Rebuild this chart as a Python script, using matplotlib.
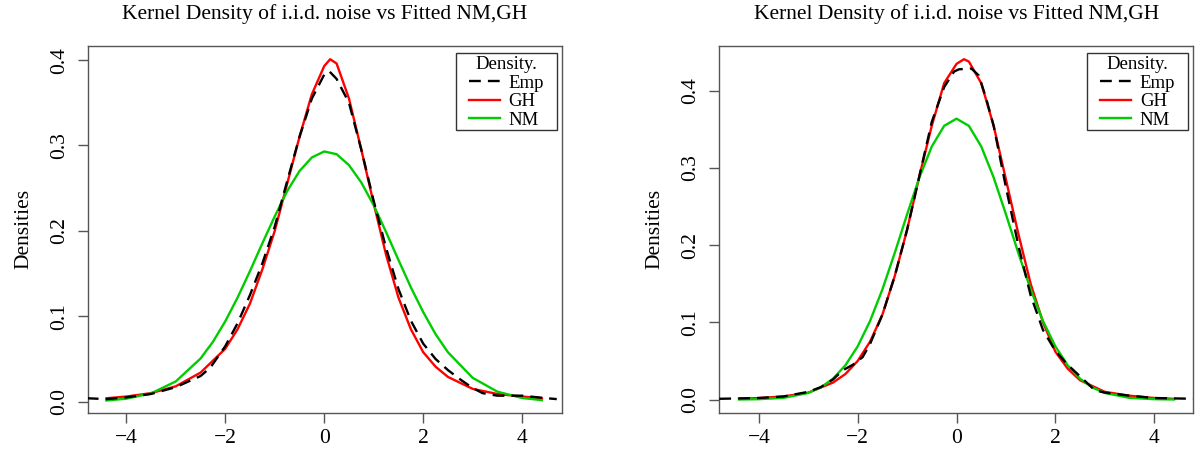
import matplotlib
matplotlib.use("Agg")
import matplotlib.pyplot as plt
from matplotlib.patches import Rectangle

plt.rcParams['font.family'] = ['Liberation Serif', 'DejaVu Serif']
plt.rcParams['axes.unicode_minus'] = True

title = "Kernel Density of i.i.d. noise vs Fitted NM,GH"
ylabel = "Densities"
legend_title = "Density."
series_names = ["Emp", "GH", "NM"]
xticks = [-4, -2, 0, 2, 4]
yticks = [0.0, 0.1, 0.2, 0.3, 0.4]

# ---------------- Left panel ----------------
left_emp_x = [-4.8, -4.4, -4.0, -3.5, -3.0, -2.5, -2.3, -2.0, -1.75, -1.5, -1.25, -1.0, -0.75,
              -0.5, -0.25, 0.0, 0.1, 0.25, 0.5, 0.75, 1.0, 1.25, 1.5, 1.75, 2.0, 2.25, 2.5,
              2.75, 3.0, 3.2, 3.5, 4.0, 4.5, 4.7]
left_emp_y = [0.004, 0.003, 0.005, 0.009, 0.017, 0.030, 0.040, 0.065, 0.092, 0.125, 0.162, 0.205,
              0.258, 0.310, 0.355, 0.383, 0.387, 0.378, 0.350, 0.295, 0.235, 0.180, 0.132, 0.095,
              0.068, 0.050, 0.037, 0.026, 0.016, 0.010, 0.007, 0.007, 0.004, 0.003]

left_gh_x = [-4.4, -4.0, -3.5, -3.0, -2.5, -2.0, -1.75, -1.5, -1.25, -1.0, -0.75, -0.5, -0.25,
             0.0, 0.12, 0.25, 0.5, 0.75, 1.0, 1.25, 1.5, 1.75, 2.0, 2.25, 2.5, 3.0, 3.5, 4.0, 4.4]
left_gh_y = [0.004, 0.006, 0.010, 0.018, 0.034, 0.062, 0.085, 0.115, 0.155, 0.200, 0.255, 0.310,
             0.360, 0.393, 0.401, 0.396, 0.355, 0.295, 0.232, 0.172, 0.122, 0.085, 0.058, 0.041,
             0.029, 0.015, 0.009, 0.006, 0.004]

left_nm_x = [-4.4, -4.0, -3.5, -3.0, -2.5, -2.25, -2.0, -1.75, -1.5, -1.25, -1.0, -0.75, -0.5,
             -0.25, 0.0, 0.25, 0.5, 0.75, 1.0, 1.25, 1.5, 1.75, 2.0, 2.25, 2.5, 3.0, 3.5, 4.0, 4.4]
left_nm_y = [0.0014, 0.0035, 0.0097, 0.0237, 0.0505, 0.070, 0.0941, 0.122, 0.153, 0.1855, 0.217,
             0.2465, 0.270, 0.286, 0.293, 0.2898, 0.277, 0.2566, 0.230, 0.1986, 0.166, 0.134,
             0.105, 0.0791, 0.0579, 0.0279, 0.0117, 0.0043, 0.0018]

# ---------------- Right panel ----------------
right_emp_x = [-4.8, -4.0, -3.5, -3.0, -2.75, -2.5, -2.3, -2.1, -1.9, -1.75, -1.5, -1.25, -1.0,
               -0.75, -0.5, -0.25, -0.05, 0.05, 0.3, 0.45, 0.6, 0.75, 1.0, 1.25, 1.5, 1.75,
               2.0, 2.25, 2.5, 2.8, 3.0, 3.5, 4.0, 4.8]
right_emp_y = [0.001, 0.002, 0.004, 0.010, 0.016, 0.026, 0.038, 0.045, 0.055, 0.072, 0.110,
               0.160, 0.220, 0.290, 0.360, 0.405, 0.425, 0.428, 0.429, 0.420, 0.390, 0.355,
               0.275, 0.200, 0.135, 0.090, 0.063, 0.045, 0.030, 0.012, 0.009, 0.005, 0.002, 0.001]

right_gh_x = [-4.4, -4.0, -3.5, -3.0, -2.5, -2.25, -2.0, -1.75, -1.5, -1.25, -1.0, -0.75, -0.5,
              -0.25, 0.0, 0.15, 0.25, 0.5, 0.75, 1.0, 1.25, 1.5, 1.75, 2.0, 2.25, 2.5, 3.0,
              3.5, 4.0, 4.4]
right_gh_y = [0.001, 0.002, 0.004, 0.009, 0.022, 0.033, 0.050, 0.075, 0.110, 0.160, 0.220, 0.290,
              0.355, 0.410, 0.435, 0.441, 0.438, 0.410, 0.355, 0.285, 0.215, 0.150, 0.100, 0.062,
              0.040, 0.025, 0.010, 0.005, 0.002, 0.001]

right_nm_x = [-4.4, -4.0, -3.5, -3.0, -2.75, -2.5, -2.25, -2.0, -1.75, -1.5, -1.25, -1.0, -0.75,
              -0.5, -0.25, 0.0, 0.25, 0.5, 0.75, 1.0, 1.25, 1.5, 1.75, 2.0, 2.25, 2.5, 2.75,
              3.0, 3.5, 4.0, 4.4]
right_nm_y = [0.0001, 0.0005, 0.0022, 0.0086, 0.0156, 0.027, 0.0443, 0.0689, 0.1017, 0.1427,
              0.190, 0.240, 0.288, 0.328, 0.3547, 0.364, 0.3547, 0.328, 0.288, 0.240, 0.190,
              0.1427, 0.1017, 0.0689, 0.0443, 0.027, 0.0156, 0.0086, 0.0022, 0.0005, 0.0001]

panels = [
    dict(emp=(left_emp_x, left_emp_y), gh=(left_gh_x, left_gh_y), nm=(left_nm_x, left_nm_y),
         xlim=(-4.78, 4.80), ylim=(-0.0129, 0.4169), rect=[0.0731, 0.0890, 0.395, 0.8102]),
    dict(emp=(right_emp_x, right_emp_y), gh=(right_gh_x, right_gh_y), nm=(right_nm_x, right_nm_y),
         xlim=(-4.80, 4.79), ylim=(-0.0170, 0.4586), rect=[0.5994, 0.0890, 0.395, 0.8102]),
]

EMP_C = "black"
GH_C = "#FF0000"
NM_C = "#00CD00"
SPINE_C = "#555555"
FS = 15.5

fig = plt.figure(figsize=(12, 4.53), dpi=100)
legends = []
for p in panels:
    ax = fig.add_axes(p["rect"])
    ax.plot(*p["gh"], color=GH_C, lw=1.7, label=series_names[1], zorder=2)
    ax.plot(*p["nm"], color=NM_C, lw=1.7, label=series_names[2], zorder=2)
    ax.plot(*p["emp"], color=EMP_C, lw=1.7, dashes=(5, 3), label=series_names[0], zorder=3)
    ax.set_xlim(*p["xlim"])
    ax.set_ylim(*p["ylim"])
    ax.set_xticks(xticks)
    ax.set_yticks(yticks)
    ax.set_xticklabels([f"{t:d}".replace("-", "\u2212") for t in xticks])
    ax.set_yticklabels([f"{t:.1f}" for t in yticks], rotation=90, va="center")
    for s in ax.spines.values():
        s.set_color(SPINE_C)
        s.set_linewidth(1.0)
    ax.tick_params(axis="both", length=7.5, width=1.0, color=SPINE_C, labelsize=FS,
                   labelcolor="black")
    ax.tick_params(axis="x", pad=4)
    ax.tick_params(axis="y", pad=6)
    ax.set_ylabel(ylabel, fontsize=FS, labelpad=12)
    ax.set_title(title, fontsize=FS, pad=19)
    handles, labels = ax.get_legend_handles_labels()
    order = [labels.index(n) for n in series_names]
    leg = ax.legend([handles[i] for i in order], [labels[i] for i in order],
                    title=legend_title, loc="upper right", bbox_to_anchor=(0.962, 0.972),
                    borderaxespad=0, fontsize=13.5, title_fontsize=13.5, frameon=False,
                    handlelength=1.65, handletextpad=0.45, labelspacing=0.08, borderpad=0.0)
    leg.set_zorder(6)
    legends.append((ax, leg))

fig.canvas.draw()
renderer = fig.canvas.get_renderer()
PAD_X, PAD_TOP, PAD_BOT = 13, 3, 1
for ax, leg in legends:
    bb = leg.get_window_extent(renderer)
    inv = ax.transAxes.inverted()
    (x0, y0) = inv.transform((bb.x0 - PAD_X, bb.y0 - PAD_BOT))
    (x1, y1) = inv.transform((bb.x1 + PAD_X, bb.y1 + PAD_TOP))
    rect = Rectangle((x0, y0), x1 - x0, y1 - y0, transform=ax.transAxes, facecolor="white",
                     edgecolor="#333333", linewidth=1.0, zorder=5, clip_on=False)
    ax.add_patch(rect)

fig.savefig("out.png", dpi=100)
